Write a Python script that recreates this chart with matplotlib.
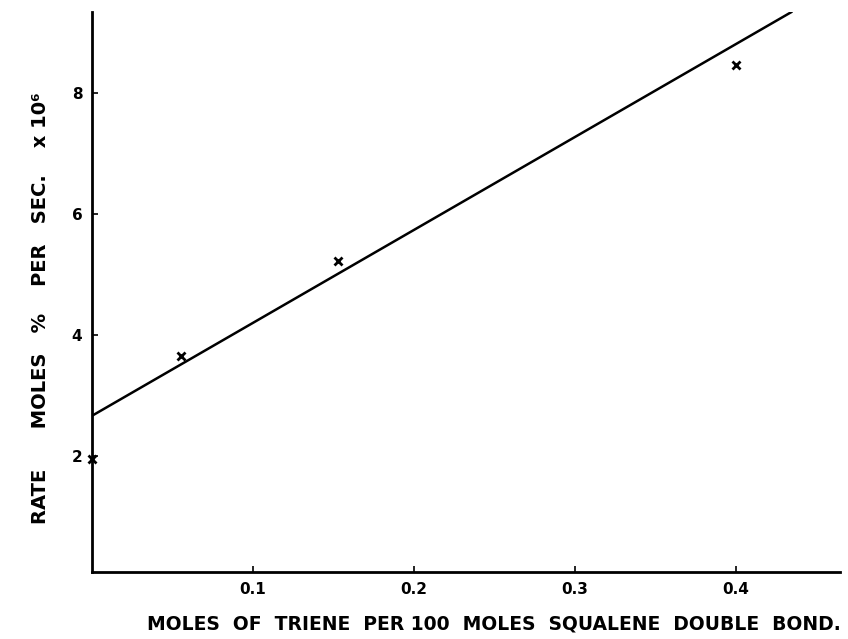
import matplotlib
matplotlib.use("Agg")
import matplotlib.pyplot as plt

# measured points (x marks)
triene = [0.0, 0.055, 0.153, 0.40]
rate = [1.95, 3.65, 5.22, 8.45]

# drawn straight line through the data
fit_x = [0.0, 0.435]
fit_y = [2.66, 9.34]

xticks = [0.1, 0.2, 0.3, 0.4]
xticklabels = ["0.1", "0.2", "0.3", "0.4"]
yticks = [2, 4, 6, 8]

fig = plt.figure(figsize=(8.48, 6.39), dpi=100)
ax = fig.add_axes([0.1085, 0.105, 0.882, 0.876])

ax.plot(fit_x, fit_y, "k-", lw=1.8, solid_capstyle="butt")
ax.plot(triene, rate, "kx", ms=6, mew=2, clip_on=False)

ax.set_xlim(0, 0.4646)
ax.set_ylim(0.08, 9.33)
ax.set_xticks(xticks)
ax.set_xticklabels(xticklabels)
ax.set_yticks(yticks)

for s in ["top", "right"]:
    ax.spines[s].set_visible(False)
for s in ["left", "bottom"]:
    ax.spines[s].set_linewidth(2)
ax.tick_params(axis="both", direction="in", length=4, width=1.2, labelsize=11, pad=7)
for lab in ax.get_xticklabels() + ax.get_yticklabels():
    lab.set_fontweight("bold")

fig.text(0.582, 0.008, "MOLES  OF  TRIENE  PER 100  MOLES  SQUALENE  DOUBLE  BOND.",
         ha="center", va="bottom", fontsize=13.5, fontweight="bold")
fig.text(0.048, 0.518, "RATE      MOLES   %    PER   SEC.    x 10\u2076",
         ha="center", va="center", rotation=90, fontsize=14, fontweight="bold")

fig.savefig("out.png", dpi=100)
